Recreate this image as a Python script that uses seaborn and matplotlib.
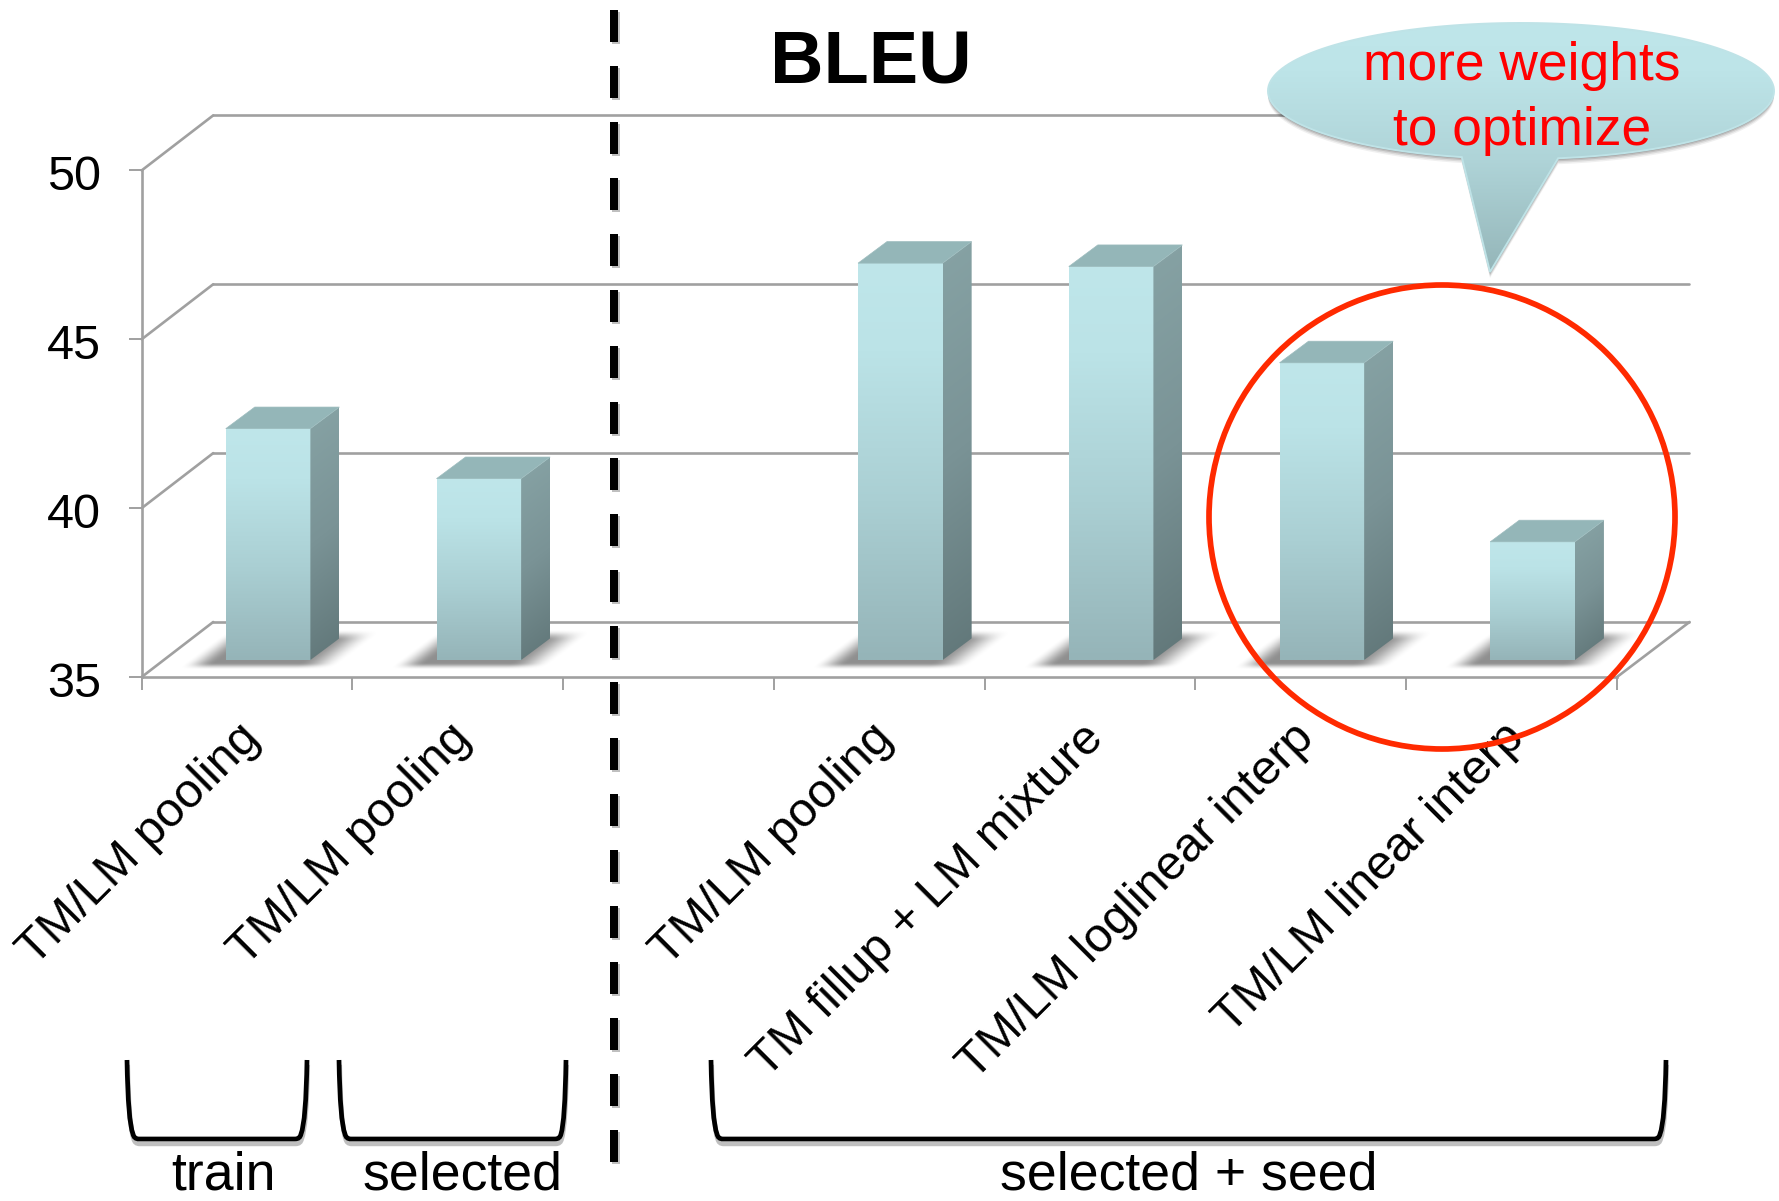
import numpy as np
import matplotlib
matplotlib.use("Agg")
import matplotlib.pyplot as plt
import matplotlib.patheffects as pe
from matplotlib.patches import Ellipse, PathPatch, Polygon
from matplotlib.path import Path
from matplotlib.transforms import Affine2D
import seaborn as sns

# Chart values
slots = [0, 1, 2, 3, 4, 5, 6]
bleu = [41.85, 40.37, np.nan, 46.75, 46.65, 43.8, 38.5]
category_labels = ["TM/LM pooling", "TM/LM pooling", "", "TM/LM pooling",
                   "TM fillup + LM mixture", "TM/LM loglinear interp", "TM/LM linear interp"]
value_ticks = [35, 40, 45, 50]

W, H = 1779, 1201
AX_L, AX_R, AX_T, AX_B = 141.7, 1617.0, 170.4, 677.0
PX_X = (AX_R - AX_L) / 7          # pixels per category
PX_Y = (AX_B - AX_T) / 15         # pixels per BLEU point

GRID = "#a0a0a0"
TXT = 38.6
TICK_TXT = 34.9
sns.set_theme(style="white")
plt.rcParams["font.family"] = ["Liberation Sans", "DejaVu Sans"]

fig = plt.figure(figsize=(W / 100, H / 100), dpi=100, facecolor="white")
ax = fig.add_axes([AX_L / W, 1 - AX_B / H, (AX_R - AX_L) / W, (AX_B - AX_T) / H])
ax.patch.set_visible(False)

sns.barplot(x=slots, y=bleu, order=slots, width=84.6 / PX_X, ax=ax, zorder=5,
            color="#b0d4d8", saturation=1, linewidth=0)

# Depth of the chart floor and of a single bar, in data units
FLOOR_DX_L, FLOOR_DX_R, FLOOR_DY = 71.5 / PX_X, 72.5 / PX_X, 55 / PX_Y
BAR_DX, BAR_DY = 29 / PX_X, 21.6 / PX_Y
BAR_SHIFT_X, BAR_SHIFT_Y = 21 / PX_X, 17 / PX_Y
FLOOR = 35

# Wall grid and the receding floor lines
x_left, x_right = -0.5, 6.5
line_kw = dict(color=GRID, lw=1.9, clip_on=False, zorder=1, solid_capstyle="round")
for v in value_ticks:
    ax.plot([x_left + FLOOR_DX_L, x_right + FLOOR_DX_R], [v + FLOOR_DY] * 2, **line_kw)
    ax.plot([x_left, x_left + FLOOR_DX_L], [v, v + FLOOR_DY], **line_kw)
ax.plot([x_right, x_right + FLOOR_DX_R], [FLOOR, FLOOR + FLOOR_DY], **line_kw)


def lerp_colors(t, stops):
    t = np.clip(t, 0, 1)
    pos = [s[0] for s in stops]
    rgb = np.array([matplotlib.colors.to_rgb(s[1]) for s in stops])
    return np.stack([np.interp(t, pos, rgb[:, i]) for i in range(3)], axis=-1)


def smooth(v, a, b):
    s = np.clip((v - a) / (b - a), 0, 1)
    return s * s * (3 - 2 * s)


FRONT = [(0, "#bfe6ea"), (0.22, "#bbe3e7"), (0.6, "#aacfd3"), (1, "#95b4b8")]
SIDE = [(0, "#86a2a4"), (0.5, "#7a9396"), (1, "#62787a")]

for patch in list(ax.patches):
    value = patch.get_height()
    if not np.isfinite(value) or value <= 0:
        continue
    x0 = patch.get_x() + BAR_SHIFT_X
    x1 = x0 + patch.get_width()
    y0 = FLOOR + BAR_SHIFT_Y
    y1 = y0 + value - FLOOR
    patch.set_x(x0)
    patch.set_y(y0)
    patch.set_height(value - FLOOR)
    patch.set_clip_on(False)

    # Soft shadow on the floor
    sx0, sx1 = x0 - 50 / PX_X, x1 + BAR_DX + 80 / PX_X
    sy0, sy1 = y0 - 14 / PX_Y, y0 + 34 / PX_Y
    gx, gy = np.meshgrid(np.linspace(sx0, sx1, 220), np.linspace(sy1, sy0, 60))
    u = (gx - x0) * PX_X
    w = (gy - y0) * PX_Y
    s = u - w * 1.34
    alpha = smooth(s, -38, -6) * (1 - smooth(s, 78, 120)) * smooth(w, -10, -3) * (1 - smooth(w, 19, 30))
    rgba = np.zeros(alpha.shape + (4,))
    rgba[..., 3] = alpha * 0.44
    ax.imshow(rgba, extent=(sx0, sx1, sy0, sy1), aspect="auto", zorder=2,
              interpolation="bilinear", clip_on=False)

    # Front face gradient
    tf = np.linspace(0, 1, 256).reshape(-1, 1)
    im = ax.imshow(lerp_colors(tf, FRONT), extent=(x0, x1, y0, y1), aspect="auto",
                   zorder=6, interpolation="bilinear")
    im.set_clip_on(False)

    # Side face gradient, running diagonally with the face
    sxa, sxb = x1, x1 + BAR_DX
    sya, syb = y0, y1 + BAR_DY
    side_h = (syb - sya) * PX_Y
    gu, gt = np.meshgrid(np.linspace(0, 1, 24), np.linspace(0, 1, 256))
    side = ax.imshow(lerp_colors(gt + (gu - 1) * 21.6 / side_h + 21.6 / side_h * 0.5, SIDE),
                     extent=(sxa, sxb, sya, syb), aspect="auto", zorder=6,
                     interpolation="bilinear")
    side_poly = Polygon([(x1, y0), (x1 + BAR_DX, y0 + BAR_DY), (x1 + BAR_DX, y1 + BAR_DY), (x1, y1)],
                        closed=True, transform=ax.transData, fill=False, lw=0)
    ax.add_patch(side_poly)
    side.set_clip_path(side_poly)

    ax.add_patch(Polygon([(x0, y1), (x0 + BAR_DX, y1 + BAR_DY), (x1 + BAR_DX, y1 + BAR_DY), (x1, y1)],
                         closed=True, facecolor="#94b6b8", edgecolor="#9dbcbe", lw=0.5,
                         zorder=6, clip_on=False))

ax.set_xlim(x_left, x_right)
ax.set_ylim(35, 50)

# Axes, ticks and labels
sns.despine(ax=ax, top=True, right=True)
for side_name in ("left", "bottom"):
    ax.spines[side_name].set_color(GRID)
    ax.spines[side_name].set_linewidth(1.9)
ax.set_yticks(value_ticks)
ax.set_yticklabels([str(v) for v in value_ticks], fontsize=TICK_TXT, color="black")
ax.tick_params(axis="y", which="major", left=True, length=9.5, width=1.4, color=GRID, pad=20)
y_shift = Affine2D().translate(0, -2.5)
for lab in ax.get_yticklabels():
    lab.set_transform(lab.get_transform() + y_shift)
ax.set_xticks(np.arange(x_left, x_right + 1), minor=True)
ax.tick_params(axis="x", which="minor", bottom=True, length=9.5, width=1.4, color=GRID)
ax.set_xticks(slots)
ax.set_xticklabels(category_labels, fontsize=TICK_TXT, color="black", rotation=45,
                   ha="right", va="center", rotation_mode="anchor")
ax.tick_params(axis="x", which="major", bottom=False, length=0, pad=39)
shift = Affine2D().translate(6, 0)
for lab in ax.get_xticklabels():
    lab.set_transform(lab.get_transform() + shift)
ax.set_xlabel("")
ax.set_ylabel("")

# Annotation layer in pixel coordinates
ov = fig.add_axes([0, 0, 1, 1], zorder=10)
ov.patch.set_visible(False)
ov.axis("off")

ov.text(871, 84, "BLEU", fontsize=53.3, fontweight="bold", ha="center", va="baseline", color="black")

# Divider between the training variants and the seeded ones
ov.plot([613.5, 613.5], [10, 1163], color="black", lw=5.76, linestyle=(0, (4.0, 3.0)),
        dash_capstyle="butt",
        path_effects=[pe.SimpleLineShadow(offset=(1.5, -1.5), alpha=0.25, shadow_color="black"), pe.Normal()])

# Group brackets
BR_TOP, BR_BOT = 1060, 1139
for xa, xb, xc, xd in [(127, 133, 301, 307), (339, 345, 561, 566), (711, 717, 1660, 1666)]:
    verts = [(xa, BR_TOP), (xa + 1, BR_BOT - 17), (xb, BR_BOT - 5), (xb + 1, BR_BOT), (xb + 6, BR_BOT),
             (xc - 6, BR_BOT), (xc - 1, BR_BOT), (xc, BR_BOT - 5), (xd - 1, BR_BOT - 17), (xd, BR_TOP)]
    codes = [Path.MOVETO, Path.CURVE3, Path.CURVE3, Path.CURVE3, Path.CURVE3,
             Path.LINETO, Path.CURVE3, Path.CURVE3, Path.CURVE3, Path.CURVE3]
    ov.add_patch(PathPatch(Path(verts, codes), fill=False, edgecolor="black", lw=3.4,
                           capstyle="butt",
                           path_effects=[pe.SimpleLineShadow(offset=(0.5, -3.5), alpha=0.25, shadow_color="black"),
                                         pe.Normal()]))

for cx, label in [(223, "train"), (463, "selected"), (1189, "selected + seed")]:
    ov.text(cx, 1190, label, fontsize=TXT, ha="center", va="baseline", color="black")

# Circle around the interpolation variants
ov.add_patch(Ellipse((1442, 517), 466, 464, fill=False, edgecolor="#ff2a00", lw=4.1))

# Speech bubble
cx, cy, rx, ry = 1521, 91, 253, 68
t_a = np.arctan2((158 - cy) / ry, (1558 - cx) / rx)
t_b = np.arctan2((158 - cy) / ry, (1461 - cx) / rx)
arc = np.linspace(t_b, t_a + 2 * np.pi, 160)
outline = np.column_stack([cx + rx * np.cos(arc), cy + ry * np.sin(arc)])
outline = np.vstack([outline, [[1490, 272]], outline[:1]])
bubble = Path(outline, closed=True)
for off, a in [(6, 0.06), (4.5, 0.09), (3, 0.12), (1.5, 0.16)]:
    ov.add_patch(PathPatch(bubble, transform=Affine2D().translate(0, off) + ov.transData,
                           facecolor="black", edgecolor="none", alpha=a))
tb = np.linspace(0, 1, 256).reshape(-1, 1)
grad = ov.imshow(lerp_colors(tb, [(0, "#bfe6ea"), (0.2, "#bde4e8"), (0.55, "#afd4d8"), (1, "#94b5b8")]),
                 extent=(cx - rx - 2, cx + rx + 2, 274, 20), aspect="auto", zorder=2,
                 interpolation="bilinear")
bubble_patch = PathPatch(bubble, facecolor="none", edgecolor="#bfe3e7", lw=1.4, zorder=3)
ov.add_patch(bubble_patch)
grad.set_clip_path(bubble_patch)
ov.text(1522, 80, "more weights", fontsize=38.4, color="#ff0000", ha="center", va="baseline", zorder=4)
ov.text(1522, 145, "to optimize", fontsize=38.4, color="#ff0000", ha="center", va="baseline", zorder=4)

ov.set_xlim(0, W)
ov.set_ylim(H, 0)

fig.savefig("out.png", dpi=100, facecolor="white")
